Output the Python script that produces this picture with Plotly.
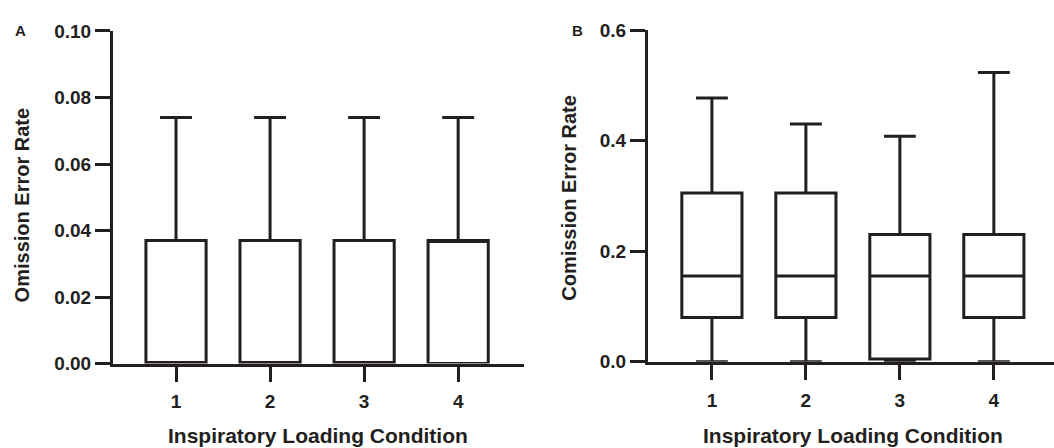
import plotly.graph_objects as go

conditions = [1, 2, 3, 4]

# Panel A: Omission error rate
omis_min = [0.0, 0.0, 0.0, 0.0]
omis_q1 = [0.0, 0.0, 0.0, 0.0]
omis_median = [0.0, 0.0, 0.0, 0.037]
omis_q3 = [0.037, 0.037, 0.037, 0.037]
omis_max = [0.074, 0.074, 0.074, 0.074]

# Panel B: Comission error rate
comis_min = [0.0, 0.0, 0.0, 0.0]
comis_q1 = [0.08, 0.08, 0.005, 0.08]
comis_median = [0.155, 0.155, 0.155, 0.155]
comis_q3 = [0.305, 0.305, 0.23, 0.23]
comis_max = [0.477, 0.43, 0.408, 0.523]

INK = "#231f20"
FONT = "Liberation Sans, Arial, sans-serif"

fig = go.Figure()

fig.add_trace(go.Box(
    x=conditions, q1=omis_q1, median=omis_median, q3=omis_q3,
    lowerfence=omis_min, upperfence=omis_max,
    width=0.64, whiskerwidth=0.53, boxpoints=False,
    fillcolor="white", line=dict(color=INK, width=3),
    xaxis="x", yaxis="y", showlegend=False,
))
fig.add_trace(go.Box(
    x=conditions, q1=comis_q1, median=comis_median, q3=comis_q3,
    lowerfence=comis_min, upperfence=comis_max,
    width=0.64, whiskerwidth=0.53, boxpoints=False,
    fillcolor="white", line=dict(color=INK, width=3),
    xaxis="x2", yaxis="y2", showlegend=False,
))

axis_common = dict(
    showline=True, linewidth=3, linecolor=INK, showgrid=False, zeroline=False,
    ticks="outside", ticklen=15, tickwidth=3, tickcolor=INK,
    tickfont=dict(family=FONT, size=19, color=INK, weight="bold"),
)

W, H = 1054, 448
fig.update_layout(
    width=W, height=H,
    margin=dict(l=0, r=0, t=0, b=0),
    paper_bgcolor="white", plot_bgcolor="white",
    xaxis=dict(domain=[113 / W, 524 / W], range=[0.33, 4.70], ticklabelstandoff=4,
               tickvals=conditions, ticktext=[str(c) for c in conditions], **axis_common),
    yaxis=dict(domain=[(H - 371) / H, (H - 22) / H], range=[0, 0.10], dtick=0.02,
               tickformat=".2f", anchor="x", **axis_common),
    xaxis2=dict(domain=[648 / W, 1.0], range=[0.32, 4.64], anchor="y2", ticklabelstandoff=4,
                tickvals=conditions, ticktext=[str(c) for c in conditions], **axis_common),
    yaxis2=dict(domain=[(H - 369) / H, (H - 21) / H], range=[0, 0.6], dtick=0.2,
                tickformat=".1f", anchor="x2", **axis_common),
)

title_font = dict(family=FONT, size=21, color=INK, weight="bold")
ytitle_font = dict(family=FONT, size=20, color=INK, weight="bold")
annotations = [
    dict(text="A", x=20 / W, y=1 - 22 / H, font=dict(family=FONT, size=15, color=INK, weight="bold")),
    dict(text="B", x=577 / W, y=1 - 22 / H, font=dict(family=FONT, size=15, color=INK, weight="bold")),
    dict(text="Inspiratory Loading Condition", x=318 / W, y=1 - 446 / H, font=title_font),
    dict(text="Inspiratory Loading Condition", x=853 / W, y=1 - 446 / H, font=title_font),
    dict(text="Omission Error Rate", x=22 / W, y=1 - 205 / H, textangle=-90, font=ytitle_font),
    dict(text="Comission Error Rate", x=569 / W, y=1 - 197 / H, textangle=-90, font=ytitle_font),
]
for a in annotations:
    a.update(xref="paper", yref="paper", showarrow=False, xanchor="center", yanchor="middle")
fig.update_layout(annotations=annotations)

fig.write_html("out.html")
